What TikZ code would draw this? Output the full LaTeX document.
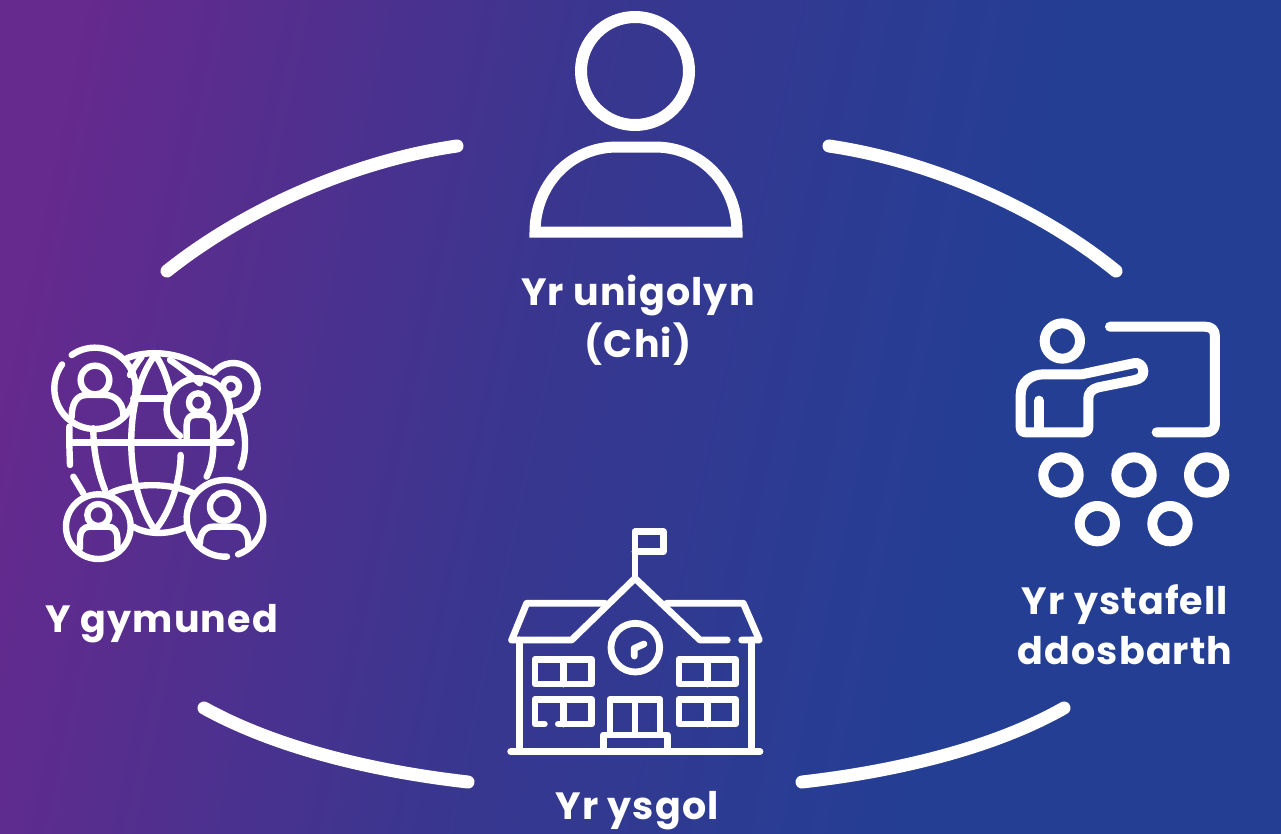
\documentclass[tikz,border=0pt]{standalone}
\usepackage{fontspec}
\setmainfont{Poppins}
\definecolor{cp}{HTML}{66298E}
\definecolor{cm}{HTML}{3A368F}
\definecolor{cb}{HTML}{243E94}
\pgfdeclarehorizontalshading{bgsh}{100bp}{color(0bp)=(cp); color(26bp)=(cp); color(45bp)=(cm); color(63bp)=(cb); color(100bp)=(cb)}
\tikzset{
  lbl/.style={text=white,font=\fontsize{38}{52}\selectfont\bfseries\addfontfeatures{LetterSpace=3},inner sep=0pt,align=center},
  ring/.style={draw=white,line cap=round,line join=round},
  thin icon/.style={ring,line width=6.4pt},
  mid icon/.style={ring,line width=6.8pt},
  thick icon/.style={ring,line width=10pt},
  big arc/.style={ring,line width=13pt}
}
\begin{document}
\begin{tikzpicture}[x=1pt,y=-1pt]
\useasboundingbox (0,0) rectangle (1281,833);
\begin{scope}
\clip (0,0) rectangle (1281,833);
\shade[shading=bgsh,shading angle=-12] (-60,-60) rectangle (1341,893);
\end{scope}
% ring arcs
\coordinate (tlA) at (167,271); \coordinate (tlB) at (457,146);
\coordinate (trA) at (829,146); \coordinate (trB) at (1116,271);
\coordinate (blA) at (204,708); \coordinate (blB) at (468,782);
\coordinate (brA) at (802,782); \coordinate (brB) at (1064,708);
\draw[big arc] (tlA) .. controls (250,205) and (360,160) .. (tlB);
\draw[big arc] (trA) .. controls (925,160) and (1035,205) .. (trB);
\draw[big arc] (blA) .. controls (280,750) and (380,772) .. (blB);
\draw[big arc] (brA) .. controls (890,772) and (990,750) .. (brB);
% person
\draw[ring,line width=12pt] (635,71) circle (54);
\draw[ring,line width=11pt,line cap=butt,line join=miter] (535,232) .. controls (535,185) and (570,147) .. (617,147) -- (655,147) .. controls (702,147) and (737,185) .. (737,232) -- cycle;
% globe icon
\begin{scope}[shift={(30,330)},x=0.3333pt,y=-0.3333pt]
\draw[thin icon] (195,175) ++(-125:122) arc (-125:216:122);
\draw[thin icon] (195,150) circle (43);
\draw[thin icon] (125,262) .. controls (125,220) and (140,195) .. (170,195) -- (225,195) .. controls (260,195) and (280,225) .. (280,255);
\draw[thin icon] (505,240) ++(125:95) arc (125:415:95);
\draw[thin icon] (505,218) circle (28);
\draw[thin icon] (470,325) -- (470,285) .. controls (470,265) and (480,255) .. (495,255) -- (520,255) .. controls (540,255) and (550,270) .. (550,285) -- (550,325);
\draw[thin icon] (610,172) ++(-143:73) arc (-143:85:73);
\draw[thin icon] (603,170) circle (24);
\draw[thin icon] (205,590) circle (97);
\draw[thin icon] (205,555) circle (33);
\draw[thin icon] (150,655) -- (150,625) .. controls (150,605) and (160,590) .. (180,590) -- (235,590) .. controls (252,590) and (262,605) .. (262,625) -- (262,655);
\draw[thin icon] (585,565) ++(87:115) arc (87:430:115);
\draw[thin icon] (582,530) circle (42);
\draw[thin icon] (510,640) .. controls (510,610) and (525,590) .. (550,590) -- (615,590) .. controls (640,590) and (655,610) .. (655,640) -- (655,650);
% globe
\draw[thin icon] (118,290) -- (118,345) -- (120,405);
\draw[thin icon] (130,440) -- (160,490);
\draw[thin icon] (625,250) .. controls (645,290) and (655,360) .. (632,412);
\draw[thin icon] (290,85) .. controls (350,60) and (450,60) .. (540,125);
\draw[thin icon] (240,490) .. controls (300,460) and (420,455) .. (490,490);
\draw[thin icon] (310,590) .. controls (350,615) and (420,615) .. (470,590);
\draw[thin icon] (120,337) -- (605,337);
\draw[thin icon] (310,205) -- (410,205);
\draw[thin icon] (375,75) .. controls (280,200) and (280,470) .. (375,600);
\draw[thin icon] (375,75) .. controls (395,100) and (410,140) .. (420,180);
\draw[thin icon] (452,375) .. controls (452,450) and (420,550) .. (375,600);
\draw[thin icon] (190,295) .. controls (190,370) and (205,430) .. (225,480);
\draw[thin icon] (550,340) .. controls (550,380) and (545,410) .. (530,440);
\draw[thin icon] (420,90) .. controls (450,110) and (480,135) .. (510,160);
\draw[thin icon] (335,80) .. controls (320,100) and (310,115) .. (300,135);
\end{scope}
% school icon
\begin{scope}[shift={(490,520)},x=0.3333pt,y=-0.3333pt]
\draw[mid icon] (435,170) -- (435,35) -- (520,35) -- (520,95) -- (435,95);
\draw[mid icon] (65,360) -- (245,360) -- (435,175) -- (630,360) -- (712,360);
\draw[mid icon] (65,360) -- (110,250) -- (345,250);
\draw[mid icon] (530,250) -- (760,250) -- (808,360) -- (755,360);
\draw[mid icon] (88,360) -- (88,695);
\draw[mid icon] (785,360) -- (785,695);
\draw[mid icon] (62,695) -- (810,695);
\draw[mid icon] (436,383) circle (73);
\draw[mid icon] (433,408) -- (433,385) -- (462,372);
\draw[mid icon] (135,418) rectangle (305,492);
\draw[mid icon] (220,418) -- (220,492);
\draw[mid icon] (567,418) rectangle (737,492);
\draw[mid icon] (652,418) -- (652,492);
\draw[mid icon] (567,538) rectangle (737,612);
\draw[mid icon] (652,538) -- (652,612);
\draw[mid icon] (163,612) -- (135,612) -- (135,538) -- (305,538) -- (305,612) -- (205,612);
\draw[mid icon] (220,538) -- (220,612);
\draw[mid icon] (360,640) -- (360,538) -- (510,538) -- (510,640);
\draw[mid icon] (435,538) -- (435,640);
\draw[mid icon] (340,695) -- (340,645) -- (532,645) -- (532,695);
\end{scope}
% teacher icon
\begin{scope}[shift={(1000,310)},x=0.3333pt,y=-0.3333pt]
\draw[thick icon] (187,93) circle (53pt/3);
\draw[thick icon] (330,50) -- (615,50) .. controls (635,50) and (645,60) .. (645,80) -- (645,340) .. controls (645,358) and (635,367) .. (615,367) -- (470,367);
\draw[thick icon] (62,350) -- (62,255) .. controls (62,215) and (95,193) .. (130,193) -- (245,193) -- (400,160) .. controls (420,155) and (430,170) .. (430,185) .. controls (430,198) and (420,207) .. (405,210) -- (295,232) .. controls (275,237) and (265,250) .. (265,265) -- (265,350) .. controls (265,362) and (258,367) .. (250,367) -- (78,367) .. controls (68,367) and (62,362) .. (62,350) -- cycle;
\draw[thick icon] (117,272) -- (117,360);
\foreach \cx/\cy/\nm in {183/495/a,402/495/b,620/495/c,292/641/d,510/641/e}
  \draw[thick icon] (\cx,\cy) circle (53pt/3);
\end{scope}
% labels
\node[lbl] (indiv) at (638,320) {Yr unigolyn\\(Chi)};
\node[lbl] (comm) at (162,624) {Y gymuned};
\node[lbl] (room) at (1125,625) {Yr ystafell\\[-2pt]ddosbarth};
\node[lbl] (sch) at (637,811) {Yr ysgol};
\end{tikzpicture}
\end{document}
